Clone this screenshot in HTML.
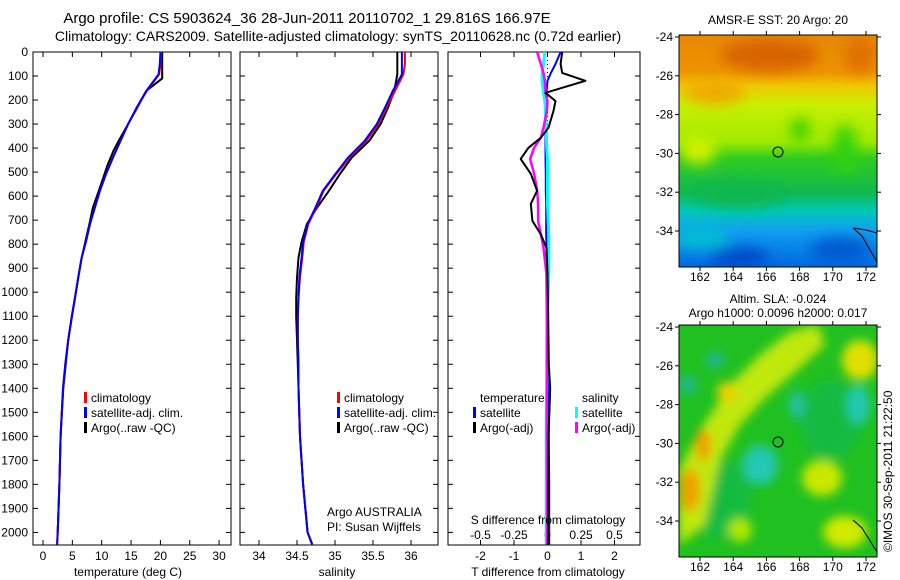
<!DOCTYPE html>
<html><head><meta charset="utf-8"><style>
body{margin:0;background:#fff;}
svg{display:block;font-family:"Liberation Sans",sans-serif;font-size:12px;}
</style></head><body>
<svg id="fig" width="900" height="580" viewBox="0 0 900 580">
<defs>
<filter id="bl" x="-50%" y="-50%" width="200%" height="200%"><feGaussianBlur stdDeviation="7"/></filter>
<filter id="bl2" x="-50%" y="-50%" width="200%" height="200%"><feGaussianBlur stdDeviation="5"/></filter>
<clipPath id="c1"><rect x="679" y="35" width="198" height="232"/></clipPath>
<clipPath id="c2"><rect x="679" y="325" width="198" height="232"/></clipPath>
<linearGradient id="sst" x1="0" y1="0" x2="0" y2="1">
<stop offset="0" stop-color="#e88800"/><stop offset="0.16" stop-color="#ec9400"/>
<stop offset="0.22" stop-color="#f0c800"/><stop offset="0.3" stop-color="#c8f000"/>
<stop offset="0.46" stop-color="#a0ea00"/><stop offset="0.53" stop-color="#30cc20"/>
<stop offset="0.68" stop-color="#10b850"/><stop offset="0.76" stop-color="#00c8b8"/>
<stop offset="0.84" stop-color="#10a0f0"/><stop offset="1" stop-color="#0068e0"/>
</linearGradient>
</defs>
<text x="307" y="23" text-anchor="middle" font-size="15">Argo profile: CS 5903624_36 28-Jun-2011 20110702_1 29.816S 166.97E</text>
<text x="338" y="41" text-anchor="middle" font-size="14">Climatology: CARS2009. Satellite-adjusted climatology: synTS_20110628.nc (0.72d earlier)</text>

<g id="p1"></g>
<g id="p2"></g>
<g id="p3"></g>

<g>
<g clip-path="url(#c1)">
<rect x="679" y="35" width="198" height="232" fill="url(#sst)"/>
<g filter="url(#bl)">
<ellipse cx="770" cy="55" rx="50" ry="16" fill="#d86400"/>
<ellipse cx="860" cy="55" rx="16" ry="18" fill="#e07000"/>
<ellipse cx="715" cy="92" rx="30" ry="12" fill="#f0a800"/>
<ellipse cx="800" cy="130" rx="10" ry="12" fill="#40d000"/>
<ellipse cx="845" cy="150" rx="12" ry="25" fill="#30d010"/>
<ellipse cx="698" cy="150" rx="18" ry="14" fill="#d0f000"/>
<ellipse cx="740" cy="195" rx="45" ry="12" fill="#10b850"/>
<ellipse cx="700" cy="238" rx="30" ry="10" fill="#00c0d0"/>
<ellipse cx="740" cy="258" rx="30" ry="10" fill="#0048c8"/>
<ellipse cx="840" cy="250" rx="30" ry="12" fill="#0058d0"/>
</g>
</g>
<rect x="679" y="35" width="198" height="232" fill="none" stroke="#000"/>
<circle cx="778" cy="152" r="5" fill="none" stroke="#000"/>
<polyline points="853,228 862,236 877,262" fill="none" stroke="#000"/>
<polyline points="853,228 866,230 877,233" fill="none" stroke="#000"/>
<text x="778" y="24" text-anchor="middle">AMSR-E SST: 20 Argo: 20</text>
</g>

<g>
<g clip-path="url(#c2)">
<rect x="679" y="325" width="198" height="232" fill="#20c020"/>
<g filter="url(#bl2)">
<ellipse cx="720" cy="500" rx="30" ry="40" fill="#10b850" opacity="0.7"/>
<ellipse cx="830" cy="420" rx="30" ry="40" fill="#10b850" opacity="0.7"/>
<polygon points="679,545 679,470 700,430 730,385 760,355 790,332 818,325 825,345 795,372 765,398 740,425 720,460 705,525" fill="#c0e810"/>
<ellipse cx="690" cy="490" rx="10" ry="22" fill="#f0a000"/>
<ellipse cx="703" cy="445" rx="8" ry="16" fill="#f0a000"/>
<ellipse cx="727" cy="392" rx="10" ry="10" fill="#f0d000"/>
<ellipse cx="860" cy="360" rx="18" ry="20" fill="#e0e000"/>
<ellipse cx="822" cy="478" rx="20" ry="18" fill="#c8e800"/>
<ellipse cx="845" cy="532" rx="22" ry="16" fill="#d0ea00"/>
<ellipse cx="760" cy="465" rx="18" ry="20" fill="#20c8b0"/>
<ellipse cx="797" cy="405" rx="8" ry="14" fill="#20c0a0"/>
<ellipse cx="858" cy="405" rx="12" ry="20" fill="#20c8b0"/>
<ellipse cx="715" cy="360" rx="10" ry="8" fill="#20b890"/>
<ellipse cx="688" cy="385" rx="8" ry="10" fill="#20b890"/>
<ellipse cx="740" cy="530" rx="12" ry="12" fill="#b0e800"/>
</g>
</g>
<rect x="679" y="325" width="198" height="232" fill="none" stroke="#000"/>
<circle cx="778" cy="442" r="5" fill="none" stroke="#000"/>
<polyline points="853,520 862,528 877,552" fill="none" stroke="#000"/>
<text x="778" y="303" text-anchor="middle">Altim. SLA: -0.024</text>
<text x="778" y="317" text-anchor="middle">Argo h1000: 0.0096 h2000: 0.017</text>
</g>
<g id="mapaxes"></g>
<text transform="translate(892,552) rotate(-90)">©IMOS 30-Sep-2011 21:22:50</text>
</svg>
<script>
// ---- data ----
const depths = [0,50,93,162,230,300,370,440,510,578,650,716,790,856,940,1023,1100,1200,1300,1400,1600,1800,2000,2050];
const tempClim = [20.1,20.0,19.8,17.7,16.0,14.5,13.2,11.9,10.7,9.7,8.8,8.0,7.3,6.6,6.0,5.45,4.9,4.3,3.8,3.4,3.0,2.8,2.5,2.4];
const tempSat  = [20.0,19.9,19.7,17.6,16.0,14.5,13.2,11.9,10.7,9.7,8.8,8.0,7.3,6.6,6.0,5.45,4.9,4.3,3.8,3.4,3.0,2.8,2.5,2.4];
const argoDepths = [0,50,110,135,162,230,300,370,412,470,578,648,716,790,856,940,1023,1200,1400,1600,1800,2000];
const tempArgo = [20.3,20.3,20.3,19.0,17.6,16.1,14.5,12.9,12.0,11.0,9.5,8.5,7.9,7.2,6.6,6.0,5.45,4.3,3.45,3.0,2.8,2.5];
const salClim = [35.92,35.92,35.90,35.79,35.68,35.57,35.41,35.19,35.01,34.85,34.75,34.65,34.59,34.57,34.54,34.52,34.51,34.51,34.52,34.52,34.54,34.58,34.64,34.70];
const salSat  = [35.88,35.88,35.88,35.76,35.66,35.55,35.39,35.17,35.00,34.84,34.74,34.64,34.58,34.56,34.53,34.52,34.51,34.51,34.52,34.52,34.54,34.58,34.64,34.70];
const salArgo = [35.82,35.82,35.82,35.78,35.70,35.60,35.45,35.22,35.06,34.92,34.76,34.63,34.56,34.52,34.50,34.49,34.49,34.50,34.51,34.52,34.54,34.58,34.64,34.70];
const diffDepths = [0,50,87,120,170,204,245,315,357,399,445,507,578,632,703,757,815,923,1100,1300,1400,1450,1600,1800,2050];
const dTArgo = [0.44,0.39,0.44,1.13,-0.06,0.24,0.18,0.03,-0.2,-0.57,-0.8,-0.5,-0.31,-0.5,-0.45,-0.21,-0.03,0.0,0.02,0.04,0.08,0.07,0.03,0.02,0.02];
const dTSat  = [0.39,0.24,0.1,0.0,-0.03,-0.04,-0.05,-0.05,-0.06,-0.06,-0.06,-0.05,-0.05,-0.04,-0.04,-0.04,-0.03,-0.02,0.0,0.02,0.03,0.03,0.04,0.05,0.05];
const dSArgo = [-0.077,-0.05,-0.03,-0.02,-0.015,0.0,-0.005,-0.03,-0.05,-0.1,-0.13,-0.1,-0.077,-0.07,-0.07,-0.05,-0.03,-0.008,-0.005,-0.005,-0.005,-0.005,-0.005,-0.004,-0.004];
const dSSat  = [-0.02,-0.03,-0.04,-0.04,-0.03,-0.02,-0.015,-0.01,-0.008,-0.005,0.0,0.0,0.0,0.0,0.005,0.01,0.01,0.01,0.0,-0.005,-0.005,-0.008,-0.01,-0.01,-0.01];
const depthTicks = [0,100,200,300,400,500,600,700,800,900,1000,1100,1200,1300,1400,1500,1600,1700,1800,1900,2000];
const tTicks = [0,5,10,15,20,25,30];
const sTicks = [34,34.5,35,35.5,36];
const dTTicks = [-2,-1,0,1,2];
const dSTicks = [-0.5,-0.25,0,0.25,0.5];
const lonTicks = [162,164,166,168,170,172];
const latTicks = [-24,-26,-28,-30,-32,-34];

const NS='http://www.w3.org/2000/svg';
function mk(parent,tag,attrs,txt){const e=document.createElementNS(NS,tag);for(const k in attrs)e.setAttribute(k,attrs[k]);if(txt!==undefined)e.textContent=txt;parent.appendChild(e);return e;}
const TOP=52,BOT=545;
const yD = d => TOP + d*0.2402;
function frame(g,x0,x1,withLabels){
  const r=mk(g,'rect',{x:x0,y:TOP,width:x1-x0,height:BOT-TOP,fill:'none',stroke:'#000'});
  
  
  depthTicks.forEach(d=>{
    mk(g,'line',{x1:x0,x2:x0+5,y1:yD(d),y2:yD(d),stroke:'#000'});
    mk(g,'line',{x1:x1-5,x2:x1,y1:yD(d),y2:yD(d),stroke:'#000'});
    if(withLabels){const t=mk(g,'text',{x:28,y:yD(d)+4,'text-anchor':'end'},String(d));
      
      }
  });
}
function xticks(g,ticks,fx,ly,labels){
  ticks.forEach(v=>{const x=fx(v);
    mk(g,'line',{x1:x,x2:x,y1:TOP,y2:TOP+5,stroke:'#000'});
    mk(g,'line',{x1:x,x2:x,y1:BOT-5,y2:BOT,stroke:'#000'});
    if(labels){const t=mk(g,'text',{x:x,y:ly,'text-anchor':'middle'},String(v));
      
      }
  });
}
function line(g,xs,ds,fx,color,name,w,dash){
  const pts=xs.map((v,i)=>fx(v).toFixed(1)+','+yD(ds[i]).toFixed(1)).join(' ');
  const p=mk(g,'polyline',{points:pts,fill:'none',stroke:color,'stroke-width':w||2,'stroke-linejoin':'round'});
  if(dash)p.setAttribute('stroke-dasharray',dash);
  
  
}
function legend(g,x,y,items){
  items.forEach((it,i)=>{
    if(it[0])mk(g,'rect',{x:x,y:y+i*15-6,width:3,height:11,fill:it[0]});
    const t=mk(g,'text',{x:x+7,y:y+i*15+4},it[1]);
    
    
  });
}
// panel 1
const p1=document.getElementById('p1');
const fT=t=>43+t*5.87;
frame(p1,33,231,true);
xticks(p1,tTicks,fT,560,true);
line(p1,tempArgo,argoDepths,fT,'#000','temp-argo-line');
line(p1,tempClim,depths,fT,'#f00','temp-climatology-line');
line(p1,tempSat,depths,fT,'#00f','temp-satellite-line');
legend(p1,84,398,[['#f00','climatology'],['#00f','satellite-adj. clim.'],['#000','Argo(..raw -QC)']]);
mk(p1,'text',{x:128,y:576,'text-anchor':'middle'},'temperature (deg C)');
// panel 2
const p2=document.getElementById('p2');
const fS=s=>259+(s-34)*76;
frame(p2,240,438,false);
xticks(p2,sTicks,fS,560,true);
line(p2,salArgo,depths,fS,'#000','salinity-argo-line');
line(p2,salClim,depths,fS,'#f00','salinity-climatology-line');
line(p2,salSat,depths,fS,'#00f','salinity-satellite-line');
legend(p2,337,398,[['#f00','climatology'],['#00f','satellite-adj. clim.'],['#000','Argo(..raw -QC)']]);
mk(p2,'text',{x:327,y:516},'Argo AUSTRALIA');
mk(p2,'text',{x:327,y:531},'PI: Susan Wijffels');
mk(p2,'text',{x:337,y:576,'text-anchor':'middle'},'salinity');
// panel 3
const p3=document.getElementById('p3');
const fdT=v=>547.5+v*33.5;
const fdS=v=>547.5+v*134;
frame(p3,448,640,false);
xticks(p3,dTTicks,fdT,560,true);
dSTicks.forEach(v=>{const t=mk(p3,'text',{x:fdS(v),y:539,'text-anchor':'middle'},String(v));
  
  });
mk(p3,'line',{x1:fdT(0),x2:fdT(0),y1:TOP,y2:BOT,stroke:'#000','stroke-dasharray':'1,3'});
line(p3,dTSat,diffDepths,fdT,'#00f','t-diff-satellite-line',2);
line(p3,dSSat,diffDepths,fdS,'#0ff','s-diff-satellite-line',3);
line(p3,dSArgo,diffDepths,fdS,'#f0f','s-diff-argo-line',2.5);
line(p3,dTArgo,diffDepths,fdT,'#000','t-diff-argo-line',2);
legend(p3,473,398,[[null,'temperature'],['#00f','satellite'],['#000','Argo(-adj)']]);
legend(p3,575,398,[[null,'salinity'],['#0ff','satellite'],['#f0f','Argo(-adj)']]);
mk(p3,'text',{x:548,y:524,'text-anchor':'middle'},'S difference from climatology');
mk(p3,'text',{x:548,y:576,'text-anchor':'middle'},'T difference from climatology');
// map axes
const ma=document.getElementById('mapaxes');
const fLon=l=>700+(l-162)*16.6;
[[35,267],[325,557]].forEach(m=>{
  const y0=m[0],y1=m[1];
  const fLat=la=>y0+2+(-24-la)*19.4;
  lonTicks.forEach(l=>{const x=fLon(l);
    mk(ma,'line',{x1:x,x2:x,y1:y0-4,y2:y0,stroke:'#000'});
    mk(ma,'line',{x1:x,x2:x,y1:y1,y2:y1+4,stroke:'#000'});
    const t=mk(ma,'text',{x:x,y:y1+14,'text-anchor':'middle'},String(l));
    
    });
  latTicks.forEach(la=>{const y=fLat(la);
    mk(ma,'line',{x1:675,x2:679,y1:y,y2:y,stroke:'#000'});
    mk(ma,'line',{x1:877,x2:881,y1:y,y2:y,stroke:'#000'});
    const t=mk(ma,'text',{x:673,y:y+4,'text-anchor':'end'},String(la));
    
    });
});
</script>
</body></html>
